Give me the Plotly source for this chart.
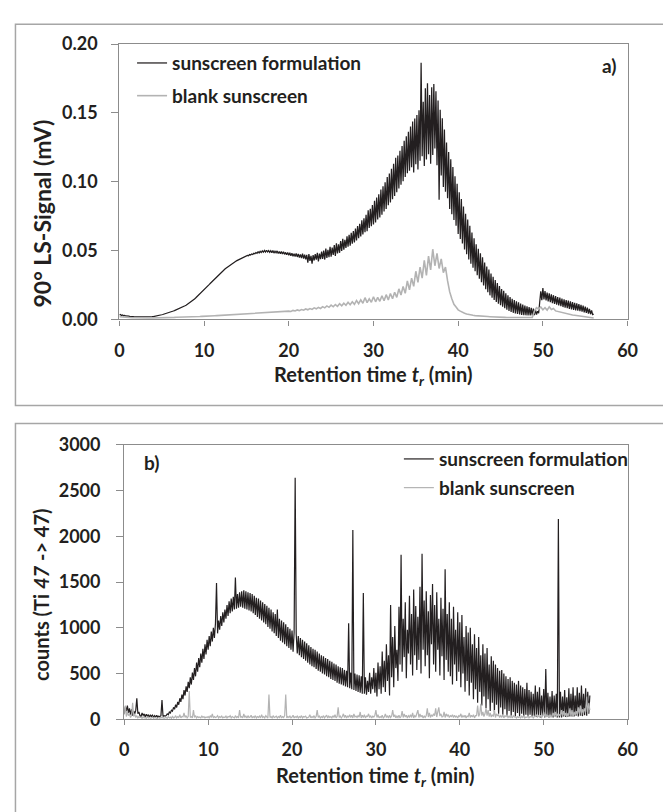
import plotly.graph_objects as go

# ---------------- data ----------------
# panel a: 90° light-scattering signal, stored in µV (0.001 mV), sampled every 0.125 min
ls_step = 0.125
ls_formulation_uV = [
    3.2, 3.6, 2.9, 3.3, 2.7, 2.9, 2.5, 2.6,
    2.3, 2.4, 2.1, 2.2, 1.9, 2.0, 1.8, 1.8,
    1.7, 1.7, 1.6, 1.6, 1.5, 1.5, 1.5, 1.5,
    1.5, 1.6, 1.6, 1.7, 1.7, 1.8, 1.9, 2.0,
    2.1, 2.2, 2.4, 2.5, 2.7, 2.8, 3.0, 3.2,
    3.4, 3.6, 3.8, 4.0, 4.2, 4.5, 4.7, 5.0,
    5.3, 5.5, 5.8, 6.1, 6.4, 6.7, 7.0, 7.3,
    7.7, 8.0, 8.4, 8.8, 9.1, 9.5, 9.9, 10.3,
    10.8, 11.3, 11.8, 12.4, 13.0, 13.6, 14.2, 14.9,
    15.6, 16.3, 17.0, 17.7, 18.4, 19.2, 20.0, 20.8,
    21.5, 22.3, 23.1, 23.9, 24.7, 25.5, 26.3, 27.1,
    27.9, 28.7, 29.5, 30.3, 31.0, 31.8, 32.6, 33.3,
    34.0, 34.7, 35.4, 36.1, 36.8, 37.4, 38.0, 38.6,
    39.2, 39.8, 40.3, 40.8, 41.3, 41.8, 42.2, 42.7,
    43.1, 43.5, 43.9, 44.3, 44.6, 45.0, 45.3, 45.6,
    45.9, 46.5, 46.3, 47.1, 46.8, 47.6, 47.2, 48.1,
    47.7, 48.6, 48.0, 49.2, 48.3, 49.5, 48.6, 49.8,
    48.8, 50.1, 48.9, 50.3, 49.0, 50.0, 48.7, 49.9,
    48.5, 50.0, 48.2, 49.6, 48.4, 49.8, 47.9, 49.3,
    47.8, 49.4, 47.5, 49.1, 47.3, 48.7, 47.0, 48.6,
    46.6, 48.4, 46.2, 48.1, 45.8, 47.8, 45.7, 47.9,
    45.4, 47.6, 44.9, 47.3, 44.6, 47.8, 44.2, 47.0,
    43.6, 46.9, 41.2, 47.4, 42.5, 46.2, 40.5, 46.8,
    42.8, 47.5, 43.4, 48.3, 42.1, 47.9, 43.8, 49.2,
    44.0, 50.1, 43.5, 51.4, 44.7, 50.6, 45.2, 52.8,
    45.6, 52.2, 46.8, 54.0, 46.1, 55.3, 47.9, 54.6,
    48.4, 57.0, 49.7, 58.5, 50.6, 57.8, 51.9, 60.3,
    52.8, 61.5, 53.6, 63.0, 55.1, 64.2, 56.0, 66.1,
    57.4, 67.8, 59.0, 69.5, 60.2, 72.1, 61.8, 73.5,
    63.3, 76.0, 64.1, 79.2, 66.5, 80.4, 67.8, 83.1,
    68.9, 86.2, 70.4, 88.5, 72.6, 91.0, 74.0, 94.3,
    76.1, 96.8, 78.5, 99.7, 80.2, 103.5, 82.9, 106.0,
    85.0, 109.4, 87.3, 113.0, 89.6, 117.5, 92.4, 119.0,
    95.1, 122.6, 97.9, 126.0, 100.4, 129.7, 103.5, 133.0,
    106.2, 136.4, 108.0, 140.1, 110.5, 143.8, 106.8, 146.0,
    112.7, 148.5, 109.0, 152.0, 115.3, 186.5, 118.6, 158.2,
    111.4, 168.0, 116.2, 171.5, 120.0, 163.0, 113.1, 168.7,
    119.4, 171.0, 124.2, 165.8, 112.0, 159.0, 87.0, 152.4,
    104.5, 146.1, 96.3, 138.0, 92.7, 128.5, 88.0, 121.6,
    80.2, 116.4, 76.5, 110.8, 72.3, 104.0, 68.1, 98.5,
    62.0, 92.3, 58.5, 87.4, 55.2, 82.0, 50.8, 76.7,
    47.3, 72.5, 43.6, 68.0, 40.4, 63.2, 37.5, 58.9,
    35.0, 54.6, 32.2, 51.3, 29.5, 48.0, 27.1, 45.2,
    24.6, 41.3, 22.0, 38.5, 19.8, 36.2, 17.5, 33.4,
    15.8, 31.0, 14.2, 28.6, 12.7, 26.5, 11.4, 24.3,
    10.3, 22.0, 9.2, 20.8, 8.1, 19.0, 7.0, 17.6,
    6.2, 16.3, 5.5, 15.0, 4.8, 14.1, 4.3, 13.2,
    3.9, 12.4, 3.6, 11.6, 3.3, 10.8, 3.1, 10.1,
    3.0, 9.6, 2.9, 9.0, 2.9, 8.4, 3.0, 7.8,
    3.2, 7.0, 3.5, 6.0, 4.5, 15.0, 20.5, 14.0,
    22.8, 14.5, 20.6, 13.8, 19.5, 13.1, 18.9, 12.5,
    18.2, 11.9, 17.6, 11.2, 16.9, 10.8, 16.3, 10.1,
    15.8, 9.6, 15.2, 9.0, 14.6, 8.6, 14.1, 8.1,
    13.7, 7.7, 13.2, 7.3, 12.6, 7.0, 12.1, 6.6,
    11.7, 6.3, 11.2, 6.0, 10.6, 5.6, 10.0, 5.2,
    9.4, 4.8, 8.6, 4.3, 7.6, 3.8, 6.5, 3.5,
    4.0,
]

ls_blank_step = 0.25
ls_blank_uV = [
    2.0, 1.8, 1.6, 1.5, 1.4, 1.3, 1.2, 1.2,
    1.1, 1.1, 1.0, 1.0, 1.0, 1.0, 1.0, 1.0,
    1.0, 1.1, 1.1, 1.2, 1.2, 1.3, 1.3, 1.4,
    1.4, 1.5, 1.5, 1.6, 1.6, 1.7, 1.7, 1.8,
    1.8, 1.9, 1.9, 2.0, 2.0, 2.1, 2.1, 2.2,
    2.2, 2.3, 2.4, 2.5, 2.6, 2.7, 2.8, 2.9,
    3.0, 3.1, 3.2, 3.3, 3.4, 3.5, 3.6, 3.7,
    3.8, 3.8, 3.9, 4.0, 4.0, 4.1, 4.2, 4.3,
    4.4, 4.5, 4.6, 4.7, 4.8, 4.9, 5.0, 5.1,
    5.2, 5.3, 5.4, 5.5, 5.6, 5.7, 5.8, 5.9,
    6.0, 5.8, 6.6, 6.2, 6.9, 6.4, 7.2, 6.7,
    7.6, 7.0, 7.9, 7.3, 8.4, 7.7, 8.8, 8.0,
    9.3, 8.4, 9.8, 8.8, 10.4, 9.2, 10.8, 9.5,
    11.4, 9.9, 11.8, 10.3, 12.5, 10.7, 12.8, 11.0,
    13.8, 11.5, 14.2, 11.8, 15.8, 12.2, 15.0, 12.5,
    16.5, 12.8, 16.0, 13.2, 17.2, 13.6, 18.0, 14.2,
    18.8, 15.0, 19.8, 16.0, 22.2, 17.8, 24.0, 19.0,
    28.0, 21.5, 30.0, 24.0, 35.0, 27.0, 38.0, 30.0,
    43.0, 32.0, 46.0, 36.0, 51.0, 39.0, 48.0, 37.0,
    44.0, 34.0, 38.0, 28.0, 20.0, 15.0, 11.0, 9.0,
    7.0, 6.0, 5.0, 4.5, 4.0, 3.5, 3.2, 3.0,
    2.8, 2.6, 2.5, 2.4, 2.3, 2.2, 2.1, 2.0,
    2.0, 1.9, 1.8, 1.7, 1.6, 1.5, 1.5, 1.4,
    1.4, 1.3, 1.3, 1.2, 1.2, 1.1, 1.1, 1.0,
    1.0, 1.0, 1.2, 1.5, 6.0, 8.5, 7.5, 9.0,
    7.0, 8.5, 6.8, 9.2, 7.2, 8.0, 6.2, 5.8,
    5.2, 4.8, 4.4, 4.0, 3.8, 3.5, 3.2, 3.0,
    2.8, 2.6, 2.4, 2.2, 2.0, 1.7, 1.5, 1.2,
    1.0,
]

# panel b: ICP-MS counts (Ti 47 -> 47), sampled every 0.125 min
ti_step = 0.125
ti_formulation = [
    60, 140, 90, 150, 70, 120, 50, 110,
    40, 90, 60, 100, 230, 60, 80, 40,
    30, 70, 40, 60, 25, 55, 35, 50,
    20, 50, 30, 45, 20, 40, 25, 45,
    20, 35, 25, 40, 210, 30, 40, 35,
    40, 60, 50, 80, 70, 100, 90, 130,
    110, 160, 130, 190, 160, 230, 190, 270,
    220, 320, 260, 360, 300, 410, 340, 460,
    380, 510, 430, 560, 470, 620, 520, 670,
    570, 720, 620, 770, 660, 820, 710, 870,
    760, 910, 800, 960, 850, 1000, 890, 1050,
    1490, 940, 1080, 980, 1130, 1020, 1170, 1060,
    1200, 1100, 1250, 1130, 1290, 1160, 1320, 1180,
    1340, 1200, 1550, 1210, 1370, 1220, 1390, 1230,
    1400, 1220, 1410, 1210, 1400, 1200, 1390, 1190,
    1380, 1180, 1370, 1160, 1350, 1140, 1330, 1120,
    1320, 1100, 1300, 1080, 1280, 1060, 1260, 1040,
    1240, 1010, 1220, 990, 1200, 960, 1170, 940,
    1150, 910, 1200, 890, 1100, 860, 1080, 840,
    1060, 820, 1040, 800, 1010, 780, 990, 760,
    970, 740, 950, 2640, 930, 720, 910, 700,
    890, 680, 870, 660, 850, 640, 830, 620,
    810, 600, 790, 580, 770, 570, 760, 550,
    740, 530, 720, 520, 700, 500, 690, 490,
    670, 470, 660, 460, 640, 440, 630, 430,
    610, 420, 600, 400, 580, 390, 570, 380,
    560, 370, 540, 360, 530, 350, 1050, 340,
    510, 330, 2070, 320, 500, 310, 490, 300,
    480, 290, 470, 280, 1380, 280, 460, 270,
    420, 300, 510, 280, 460, 330, 560, 290,
    510, 250, 620, 330, 580, 280, 740, 350,
    640, 300, 820, 420, 700, 260, 1250, 460,
    900, 350, 1020, 560, 760, 420, 1230, 600,
    1800, 520, 1100, 680, 1280, 450, 980, 720,
    1350, 600, 1150, 480, 1420, 700, 1240, 540,
    1120, 650, 1450, 500, 1810, 760, 1300, 580,
    1400, 700, 1180, 450, 1360, 820, 1480, 600,
    1250, 520, 1390, 760, 1100, 480, 1330, 690,
    1210, 430, 1640, 650, 1150, 520, 1280, 470,
    1100, 380, 1230, 600, 980, 420, 1170, 520,
    1060, 350, 1140, 500, 900, 300, 1020, 420,
    950, 260, 1000, 400, 820, 220, 930, 330,
    780, 180, 900, 300, 700, 150, 820, 250,
    720, 120, 780, 220, 600, 90, 690, 180,
    640, 80, 600, 160, 560, 60, 530, 130,
    540, 50, 500, 110, 470, 40, 440, 90,
    460, 40, 420, 80, 400, 30, 380, 70,
    420, 30, 370, 60, 350, 30, 330, 50,
    400, 30, 320, 50, 300, 25, 280, 40,
    370, 25, 300, 40, 350, 20, 260, 40,
    330, 20, 550, 30, 290, 20, 250, 30,
    310, 20, 260, 30, 280, 20, 2190, 20,
    300, 20, 250, 30, 320, 25, 240, 25,
    340, 30, 280, 30, 350, 30, 260, 40,
    350, 30, 290, 40, 370, 35, 280, 45,
    340, 40, 300, 60, 260,
]

ti_blank = [
    50, 150, 30, 90, 40, 60, 20, 40,
    180, 30, 60, 20, 40, 15, 30, 20,
    25, 10, 30, 15, 20, 10, 25, 15,
    20, 10, 15, 25, 10, 20, 15, 10,
    15, 20, 10, 25, 15, 20, 10, 15,
    20, 10, 30, 15, 25, 10, 35, 15,
    20, 40, 15, 30, 20, 50, 15, 30,
    25, 70, 20, 40, 15, 30, 310, 20,
    30, 15, 100, 20, 40, 15, 30, 20,
    25, 15, 35, 20, 30, 15, 25, 20,
    30, 15, 40, 20, 60, 15, 30, 20,
    25, 40, 15, 30, 20, 35, 15, 25,
    20, 35, 15, 30, 25, 40, 15, 30,
    25, 15, 40, 20, 30, 15, 100, 20,
    30, 15, 60, 20, 35, 15, 40, 20,
    25, 45, 15, 30, 20, 40, 15, 30,
    20, 35, 15, 50, 20, 30, 15, 40,
    25, 15, 270, 20, 30, 15, 40, 20,
    25, 35, 15, 30, 20, 45, 15, 30,
    20, 40, 270, 15, 30, 20, 35, 15,
    25, 45, 15, 30, 20, 35, 15, 30,
    20, 40, 15, 30, 25, 35, 15, 25,
    25, 50, 15, 30, 20, 40, 15, 30,
    100, 20, 35, 15, 30, 20, 40, 15,
    25, 45, 15, 35, 20, 30, 15, 40,
    20, 50, 15, 30, 130, 20, 35, 15,
    30, 60, 20, 45, 15, 35, 25, 50,
    20, 45, 15, 60, 25, 35, 20, 40,
    25, 80, 15, 45, 20, 50, 15, 35,
    30, 60, 20, 40, 15, 35, 25, 45,
    100, 20, 50, 15, 30, 20, 45, 15,
    25, 60, 20, 40, 15, 45, 20, 35,
    100, 25, 50, 15, 35, 20, 45, 15,
    30, 90, 20, 60, 25, 45, 15, 40,
    25, 50, 20, 70, 15, 40, 25, 55,
    100, 20, 60, 25, 45, 15, 35, 20,
    40, 120, 25, 70, 20, 50, 30, 60,
    40, 120, 25, 80, 130, 35, 60, 25,
    30, 80, 20, 60, 35, 50, 20, 40,
    30, 50, 20, 45, 25, 35, 15, 40,
    30, 60, 20, 40, 25, 45, 15, 35,
    30, 70, 20, 45, 25, 50, 15, 40,
    40, 150, 30, 60, 170, 40, 80, 30,
    60, 120, 40, 100, 30, 70, 25, 50,
    30, 100, 20, 60, 40, 50, 20, 40,
    25, 50, 15, 40, 30, 45, 20, 35,
    20, 35, 15, 40, 25, 30, 15, 30,
    20, 30, 15, 35, 20, 40, 15, 25,
    20, 40, 15, 30, 25, 35, 15, 30,
    30, 50, 20, 40, 25, 45, 20, 35,
    80, 30, 60, 25, 45, 20, 50, 25,
    40, 70, 30, 80, 25, 60, 30, 50,
    40, 100, 30, 90, 35, 70, 25, 60,
    50, 120, 40, 100, 30, 80, 45, 90,
    50, 130, 60, 150, 40, 110, 70, 120,
    80, 250, 60, 180, 100,
]

assert len(ls_formulation_uV) == 449, len(ls_formulation_uV)
assert len(ls_blank_uV) == 225, len(ls_blank_uV)
assert len(ti_formulation) == 445, len(ti_formulation)
assert len(ti_blank) == 445, len(ti_blank)

series_names = ["sunscreen formulation", "blank sunscreen"]
x_ticks = [0, 10, 20, 30, 40, 50, 60]
a_ticks = [0.00, 0.05, 0.10, 0.15, 0.20]
b_ticks = [0, 500, 1000, 1500, 2000, 2500, 3000]

# ---------------- figure ----------------
W, H = 663, 812
BLACK = "#231f20"
GREY = "#b3b3b3"
AXC = "#8c8c8c"
FONT = "Lato, 'Open Sans', 'DejaVu Sans', sans-serif"


def times(vals, step):
    return [round(i * step, 4) for i in range(len(vals))]


def to_mV(vals):
    return [v / 1000.0 for v in vals]


def px(x):
    return x / W


def py(y):
    return 1 - y / H


fig = go.Figure()
fig.add_trace(go.Scatter(x=times(ls_formulation_uV, ls_step), y=to_mV(ls_formulation_uV),
                         mode="lines", name=series_names[0],
                         line=dict(color=BLACK, width=1.25),
                         xaxis="x", yaxis="y", legend="legend", legendgroup="a1"))
fig.add_trace(go.Scatter(x=times(ls_blank_uV, ls_blank_step), y=to_mV(ls_blank_uV),
                         mode="lines", name=series_names[1],
                         line=dict(color=GREY, width=1.6),
                         xaxis="x", yaxis="y", legend="legend", legendgroup="a2"))
fig.add_trace(go.Scatter(x=times(ti_formulation, ti_step), y=ti_formulation,
                         mode="lines", name=series_names[0],
                         line=dict(color=BLACK, width=1.2),
                         xaxis="x2", yaxis="y2", legend="legend2", legendgroup="b1"))
fig.add_trace(go.Scatter(x=times(ti_blank, ti_step), y=ti_blank,
                         mode="lines", name=series_names[1],
                         line=dict(color=GREY, width=1.2),
                         xaxis="x2", yaxis="y2", legend="legend2", legendgroup="b2"))

tickfont = dict(family=FONT, size=18, color=BLACK, weight="bold")
axis_common = dict(showline=True, linecolor=AXC, linewidth=1.3, mirror=True,
                   ticks="outside", tickcolor=AXC, tickwidth=1.3,
                   showgrid=False, zeroline=False, tickfont=tickfont)
legend_font = dict(family=FONT, size=19, color=BLACK, weight="bold")

fig.update_layout(
    width=W, height=H, margin=dict(l=0, r=0, t=0, b=0),
    paper_bgcolor="white", plot_bgcolor="white",
    font=dict(family=FONT, color=BLACK),
    xaxis=dict(domain=[px(117), px(637)], anchor="y", range=[0, 60],
               tickvals=x_ticks, ticklen=5, ticklabelstandoff=10, **axis_common),
    yaxis=dict(domain=[py(316), py(33)], anchor="x", range=[0, 0.20],
               tickvals=a_ticks, tickformat=".2f", ticklen=7,
               ticklabelstandoff=10, **axis_common),
    xaxis2=dict(domain=[px(122), px(637)], anchor="y2", range=[0, 60],
                tickvals=x_ticks, ticklen=5, ticklabelstandoff=9, **axis_common),
    yaxis2=dict(domain=[py(727), py(445)], anchor="x2", range=[0, 3000],
                tickvals=b_ticks, ticklen=7, ticklabelstandoff=12, **axis_common),
    legend=dict(x=px(130), y=py(33), xanchor="left", yanchor="top",
                bgcolor="rgba(0,0,0,0)", traceorder="grouped", tracegroupgap=5,
                font=legend_font),
    legend2=dict(x=px(403), y=py(440), xanchor="left", yanchor="top",
                 bgcolor="rgba(0,0,0,0)", traceorder="grouped", tracegroupgap=1,
                 font=legend_font),
    showlegend=True,
)

# panel frames
fig.add_shape(type="rect", xref="paper", yref="paper", x0=px(10.7), x1=1.02,
              y0=py(404.5), y1=py(12.7), line=dict(color="#a6a6a6", width=1.5),
              layer="below")
fig.add_shape(type="rect", xref="paper", yref="paper", x0=px(10.7), x1=1.02,
              y0=-0.05, y1=py(423), line=dict(color="#a6a6a6", width=1.5),
              layer="below")


def label(text, x, y, size, angle=0):
    fig.add_annotation(text=text, xref="paper", yref="paper", x=px(x), y=py(y),
                       xanchor="center", yanchor="middle", textangle=angle,
                       showarrow=False,
                       font=dict(family=FONT, size=size, color=BLACK, weight="bold"))


label("a)", 619, 55, 19)
label("b)", 150, 463, 19)
label("90° LS-Signal (mV)", 38, 207, 23, -90)
label("counts (Ti <i>47</i> -&gt; 47)", 37, 599, 20, -90)
label("Retention time <i>t</i><sub><i>r</i></sub> (min)", 377, 374, 20)
label("Retention time <i>t</i><sub><i>r</i></sub> (min)", 379, 786, 20)

fig.write_html(
    "out.html",
    config={"displayModeBar": False},
    post_script="document.body.style.margin='0';document.body.style.padding='0';"
                "document.documentElement.style.overflow='hidden';",
)
